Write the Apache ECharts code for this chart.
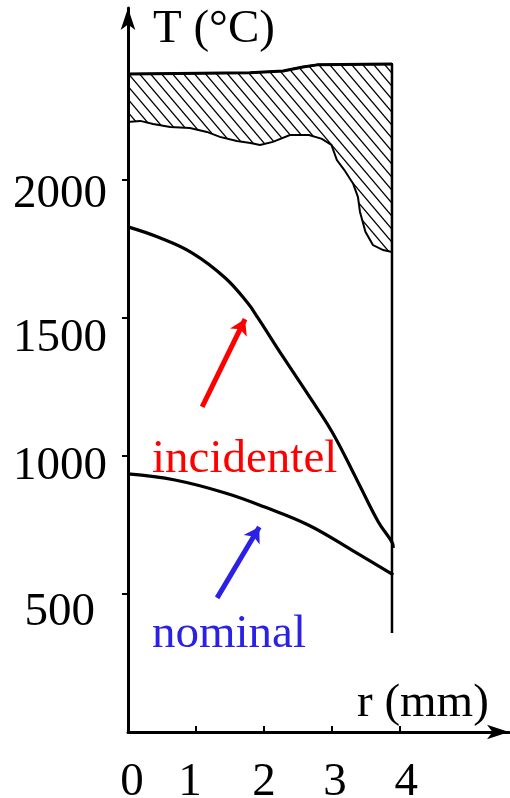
<!DOCTYPE html>
<html>
<head>
<meta charset="utf-8">
<script src="https://cdn.jsdelivr.net/npm/echarts@6/dist/echarts.min.js"></script>
<style>
html, body { margin: 0; padding: 0; background: #fff; }
#main { width: 510px; height: 798px; }
</style>
</head>
<body>
<div id="main"></div>
<script>
// r (mm), T (°C)
var incidentel = [[0, 1830], [0.44, 1793], [0.94, 1736], [1.43, 1645], [1.76, 1554], [1.91, 1500],
	[2.26, 1366], [2.65, 1221], [3.0, 1087], [3.38, 906], [3.68, 761], [3.88, 688], [3.9, 667]];
var nominal = [[0, 935], [0.69, 913], [1.43, 866], [2.01, 815], [2.65, 750], [3.29, 659], [3.9, 569]];
// hatched zone, top edge then bottom edge
var zoneTop = [[0, 2384], [1.79, 2388], [2.28, 2395], [2.57, 2409], [2.78, 2417], [3.88, 2420]];
var zoneBottom = [[0, 2210], [0.18, 2214], [0.37, 2203], [0.62, 2192], [0.91, 2188], [1.16, 2174],
	[1.35, 2156], [1.6, 2141], [1.8, 2134], [1.94, 2127], [2.13, 2138], [2.38, 2163], [2.66, 2163],
	[2.85, 2149], [2.99, 2127], [3.07, 2072], [3.18, 2036], [3.31, 1986], [3.38, 1938], [3.41, 1884],
	[3.49, 1812], [3.6, 1764], [3.75, 1746], [3.88, 1739]];
var edgeLine = [[3.88, 2420], [3.88, 359]];
var redArrow = [[1.09, 1178], [1.72, 1496]];
var blueArrow = [[1.31, 486], [1.93, 743]];
var rTicks = [0, 1, 2, 3, 4];
var tTicks = [500, 1000, 1500, 2000];

var FONT = '"Liberation Serif", "Times New Roman", serif';

// label nudges, the scan is not quite regular
var yPad = { 500: [38, 12, 0, 0], 1000: [21, 0, 0, 0], 1500: [42, 0, 0, 0], 2000: [30, 0, 0, 0] };
var xPad = { 0: [0, 0, 0, 8], 1: [0, 12, 0, 0], 2: [0, 0, 0, 0], 3: [0, 0, 0, 6], 4: [0, 0, 0, 12] };

function richOf(pads) {
	var rich = {};
	for (var k in pads) {
		rich['v' + k] = { fontSize: 47, fontFamily: FONT, color: '#000', padding: pads[k] };
	}
	return rich;
}

// hatch pattern
var hatch = document.createElement('canvas');
hatch.width = 11;
hatch.height = 13;
var hc = hatch.getContext('2d');
hc.strokeStyle = '#000';
hc.lineWidth = 1.3;
for (var s = -1; s <= 1; s++) {
	hc.beginPath();
	hc.moveTo(s * 11 - 2, -2 * 13 / 11);
	hc.lineTo(s * 11 + 13, 13 + 2 * 13 / 11);
	hc.stroke();
}

var zone = zoneTop.concat(zoneBottom.slice().reverse());

var myChart = echarts.init(document.getElementById('main'));

var option = {
	animation: false,
	grid: { left: 128, right: 1, top: 8, bottom: 66, outerBoundsMode: 'none' },
	xAxis: {
		type: 'value',
		min: 0,
		max: 5.6,
		splitLine: { show: false },
		axisLine: { lineStyle: { color: '#000', width: 3 }, symbol: ['none', 'arrow'], symbolSize: [11, 22] },
		axisTick: { show: true, inside: true, length: 6, lineStyle: { color: '#000', width: 2 }, customValues: [1, 2, 3, 4] },
		axisLabel: {
			margin: 27,
			customValues: rTicks,
			formatter: function (v) { return '{v' + v + '|' + v + '}'; },
			rich: richOf(xPad)
		}
	},
	yAxis: {
		type: 'value',
		min: 0,
		max: 2623,
		splitLine: { show: false },
		axisLine: { lineStyle: { color: '#000', width: 3 }, symbol: ['none', 'arrow'], symbolSize: [11, 22] },
		axisTick: { show: true, length: 6, lineStyle: { color: '#000', width: 2 }, customValues: tTicks },
		axisLabel: {
			margin: 21,
			customValues: tTicks,
			formatter: function (v) { return '{v' + v + '|' + v + '}'; },
			rich: richOf(yPad)
		}
	},
	series: [{
		type: 'custom',
		silent: true,
		data: zone,
		z: 1,
		renderItem: function (params, api) {
			if (params.dataIndex !== 0) return null;
			var pts = [];
			for (var i = 0; i < zone.length; i++) pts.push(api.coord(zone[i]));
			return {
				type: 'polygon',
				shape: { points: pts },
				style: { fill: { image: hatch, repeat: 'repeat' }, stroke: '#000', lineWidth: 2 }
			};
		}
	}, {
		name: 'zone top',
		type: 'line',
		data: zoneTop,
		showSymbol: false,
		silent: true,
		lineStyle: { color: '#000', width: 3 }
	}, {
		name: 'edge',
		type: 'line',
		data: edgeLine,
		showSymbol: false,
		silent: true,
		lineStyle: { color: '#000', width: 2.5 }
	}, {
		name: 'incidentel',
		type: 'line',
		data: incidentel,
		smooth: 0.4,
		showSymbol: false,
		silent: true,
		lineStyle: { color: '#000', width: 3.2 },
		markLine: {
			silent: true,
			symbol: ['none', 'arrow'],
			symbolSize: [14, 15],
			label: { show: false },
			lineStyle: { color: '#ff0000', width: 5, type: 'solid' },
			data: [[{ coord: redArrow[0] }, { coord: redArrow[1] }]]
		}
	}, {
		name: 'nominal',
		type: 'line',
		data: nominal,
		smooth: 0.4,
		showSymbol: false,
		silent: true,
		lineStyle: { color: '#000', width: 3.2 },
		markLine: {
			silent: true,
			symbol: ['none', 'arrow'],
			symbolSize: [14, 15],
			label: { show: false },
			lineStyle: { color: '#2b20e6', width: 5, type: 'solid' },
			data: [[{ coord: blueArrow[0] }, { coord: blueArrow[1] }]]
		}
	}],
	graphic: [
		{ type: 'text', left: 153, top: 6, style: { text: 'T (°C)', font: '47px ' + FONT, fill: '#000' } },
		{ type: 'text', left: 357, top: 680, style: { text: 'r (mm)', font: '47px ' + FONT, fill: '#000' } },
		{ type: 'text', left: 152, top: 436, style: { text: 'incidentel', font: '47px ' + FONT, fill: '#ff0000' } },
		{ type: 'text', left: 152, top: 611, style: { text: 'nominal', font: '47px ' + FONT, fill: '#2b20e6' } }
	]
};

myChart.setOption(option);
</script>
</body>
</html>
